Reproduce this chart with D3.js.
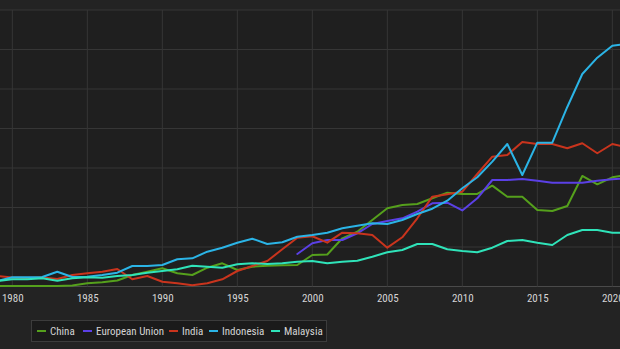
<!DOCTYPE html>
<html><head><meta charset="utf-8">
<script src="https://cdn.jsdelivr.net/npm/d3@7"></script>
<style>
html,body{margin:0;padding:0;background:#232323;overflow:hidden}
svg{display:block}
text{font-family:"Liberation Sans Narrow","Arial Narrow","Roboto Condensed","Liberation Sans",sans-serif}
</style></head>
<body><svg id="c" width="620" height="349"></svg>
<script>
const years = d3.range(1979, 2022);
const seriesNames = ["China","European Union","India","Indonesia","Malaysia"];
const seriesColors = ["#55a01c","#5b40e6","#c9341d","#2bb4e6","#2fe3b9"];
const china = [32,32,32,32,32,63,203,266,380,728,937,1152,836,728,1190,1469,1044,1253,1317,1342,1361,1994,2026,3051,3469,4209,4950,5159,5222,5583,5938,5855,5855,6381,5684,5684,4842,4779,5096,6995,6469,6912,7058];
const euYears = d3.range(1999, 2022);
const eu = [2057,2735,2943,2943,3368,3956,4146,4317,4735,5267,5305,4811,5583,6741,6741,6805,6697,6571,6571,6571,6697,6786,6849];
const india = [665,570,538,570,475,728,836,937,1108,456,665,304,203,76,203,456,981,1298,1614,2355,3089,3178,2773,3406,3368,3260,2456,3114,4317,5684,5836,6001,7121,8216,8324,9147,9020,9020,8748,9065,8432,9020,8811];
const indonesia = [348,582,582,600,937,600,620,728,874,1298,1298,1361,1722,1785,2203,2456,2773,3026,2690,2798,3152,3260,3405,3684,3849,4000,3956,4209,4589,4925,5431,6216,6912,7900,9020,7058,9103,9103,11362,13451,14483,15243,15350];
const malaysia = [348,456,456,519,367,519,582,551,665,728,874,981,1089,1317,1253,1190,1405,1469,1424,1469,1570,1614,1469,1570,1633,1886,2165,2310,2690,2690,2355,2247,2165,2456,2880,2943,2773,2627,3260,3576,3576,3405,3405];
const xTicks = [1980,1985,1990,1995,2000,2005,2010,2015,2020];
const yTicks = [0,2500,5000,7500,10000,12500,15000,17500];

const seriesData = [
  {name:seriesNames[0], color:seriesColors[0], pts: years.map((y,i)=>[y,china[i]])},
  {name:seriesNames[1], color:seriesColors[1], pts: euYears.map((y,i)=>[y,eu[i]])},
  {name:seriesNames[2], color:seriesColors[2], pts: years.map((y,i)=>[y,india[i]])},
  {name:seriesNames[3], color:seriesColors[3], pts: years.map((y,i)=>[y,indonesia[i]])},
  {name:seriesNames[4], color:seriesColors[4], pts: years.map((y,i)=>[y,malaysia[i]])}
];

const svg = d3.select("#c");
const x = d3.scaleLinear().domain([1980,2020]).range([12.3,612.3]);
const y = d3.scaleLinear().domain([0,17500]).range([286.5,10]);

// plot background
svg.append("rect").attr("x",-10).attr("y",y(17500)).attr("width",640).attr("height",y(0)-y(17500)).attr("fill","#1f1f1f");

// horizontal grid
svg.append("g").selectAll("line").data(yTicks).join("line")
  .attr("x1",-10).attr("x2",630).attr("y1",d=>y(d)).attr("y2",d=>y(d))
  .attr("stroke",d=>d===0?"#4a4a4a":"#363636").attr("stroke-width",1);

// vertical grid
svg.append("g").selectAll("line").data(xTicks).join("line")
  .attr("x1",d=>x(d)).attr("x2",d=>x(d)).attr("y1",y(17500)).attr("y2",y(0))
  .attr("stroke","#363636").attr("stroke-width",1);

// x axis
const xAxis = d3.axisBottom(x).tickValues(xTicks).tickFormat(d3.format("d")).tickSize(0).tickPadding(8);
const gx = svg.append("g").attr("transform",`translate(0,${y(0)})`).call(xAxis);
gx.select(".domain").remove();
gx.selectAll("text").attr("fill","#d4d4d4").style("font-size","11px");

// lines
const line = d3.line().x(d=>x(d[0])).y(d=>y(d[1]));
svg.append("g").selectAll("path").data(seriesData).join("path")
  .attr("d",d=>line(d.pts)).attr("fill","none").attr("stroke",d=>d.color)
  .attr("stroke-width",2).attr("stroke-linejoin","round").attr("stroke-linecap","round");

// legend
const lg = svg.append("g");
lg.append("rect").attr("x",31.5).attr("y",320.5).attr("width",295).attr("height",21)
  .attr("fill","#1b1b1b").attr("stroke","#3c3c3c");
const itemX = [37,83,169,209,271];
seriesData.forEach((s,i)=>{
  const g = lg.append("g").attr("transform",`translate(${itemX[i]},331)`);
  g.append("line").attr("x1",0).attr("x2",9).attr("y1",0).attr("y2",0).attr("stroke",s.color).attr("stroke-width",2);
  g.append("text").attr("x",13).attr("y",4).attr("fill","#d4d4d4").style("font-size","11px").text(s.name);
});
</script>
</body></html>
